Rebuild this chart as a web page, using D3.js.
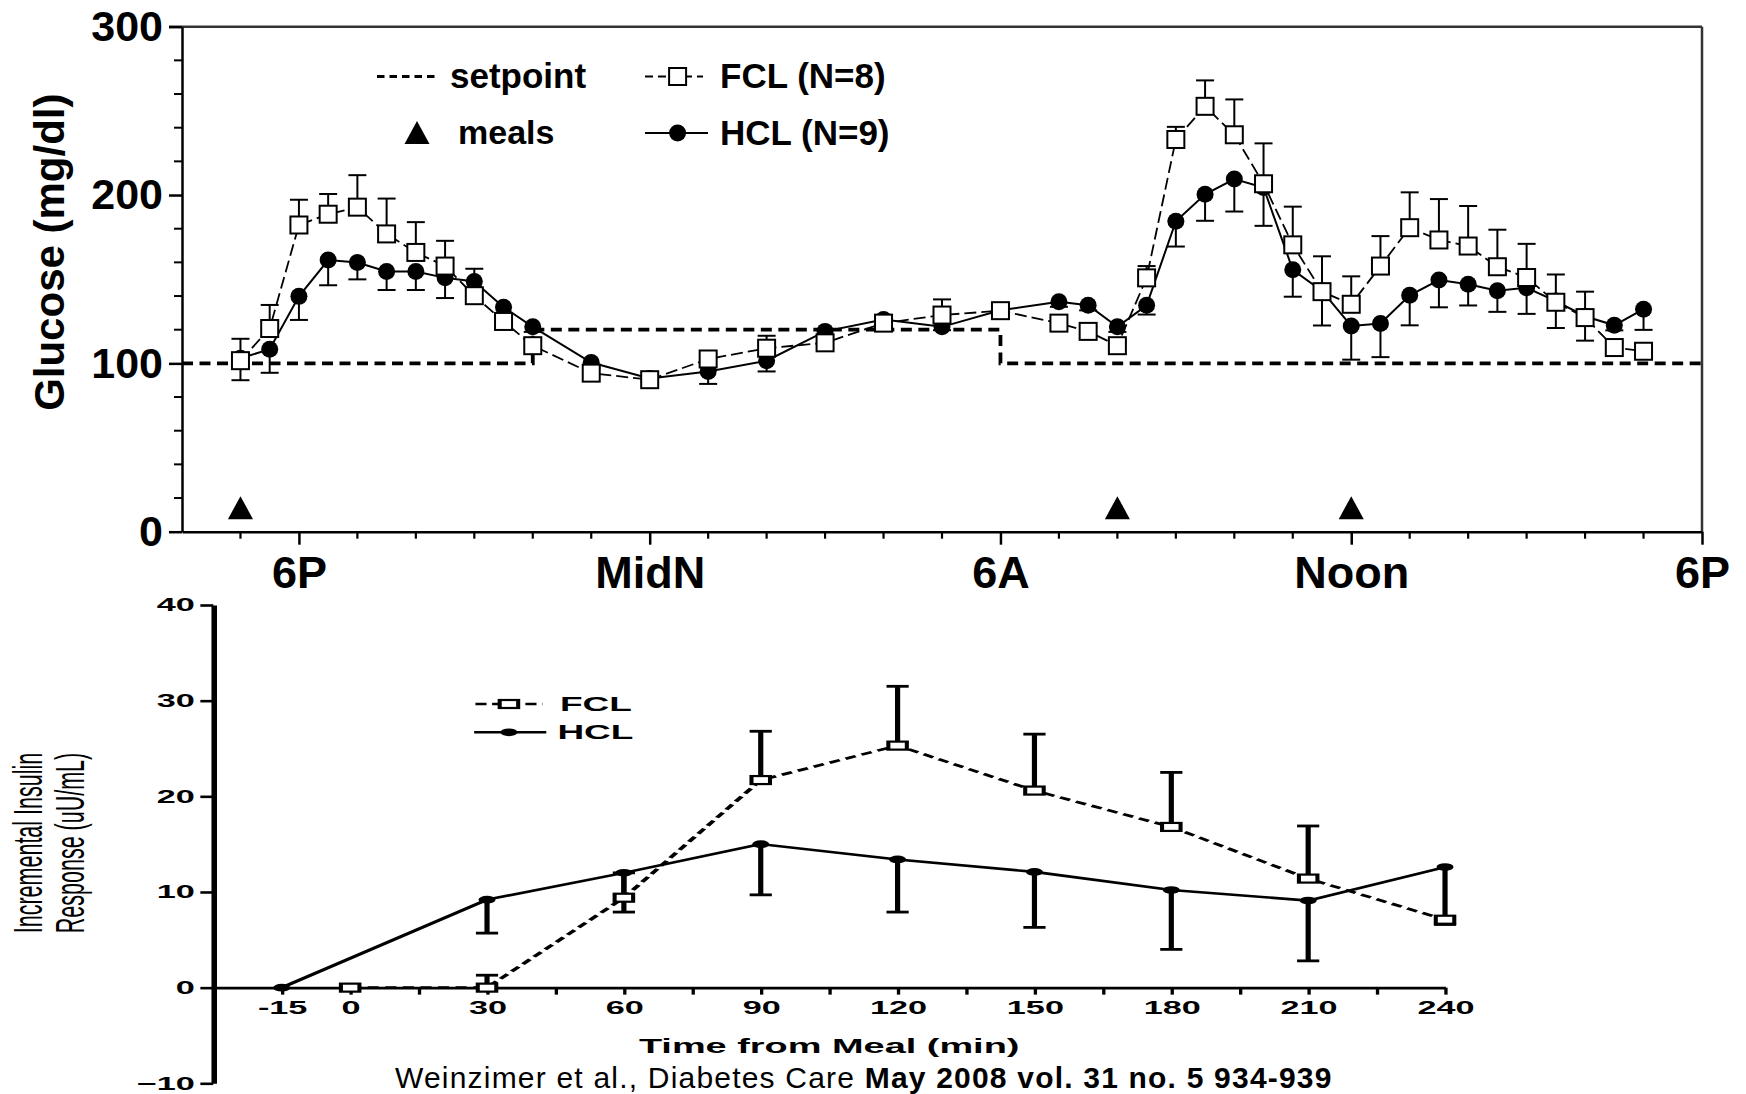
<!DOCTYPE html>
<html><head><meta charset="utf-8">
<script src="https://cdn.jsdelivr.net/npm/d3@7"></script>
<style>
body{margin:0;background:#fff}
svg{display:block;background:#fff}
text{font-family:"Liberation Sans",Arial,Helvetica,sans-serif;fill:#000}
</style>
</head><body>
<svg id="chart" width="1746" height="1094"></svg>
<script>
// ---------------- DATA: top panel (glucose) ----------------
const glucoseTimes = [17,17.5,18,18.5,19,19.5,20,20.5,21,21.5,22,
  23,24,25,26,27,28,29,30,31,
  31.5,32,32.5,33,33.5,34,34.5,35,35.5,36,36.5,37,37.5,38,38.5,39,39.5,40,40.5,41];
const fclGlucose = [101.6,120.7,182.2,188.6,192.8,176.9,165.9,157.8,140.2,124.9,110.5,
  94.2,90.3,102.6,109,112.2,123.9,128.7,131.3,123.9,
  119,110.5,150.8,233,252.7,235.8,206.7,170.4,142.6,135.1,157.8,180.6,173.3,169.7,157.4,151,136.3,127.2,109.4,107.2];
const fclGlucoseErr = [13,14,15,12,19,21,18,15,16,5,3,
  3,2,3,7.4,3,3,9.3,3,3,
  3,3,7,7.5,15.4,21,24,22.7,21,16.6,17.8,21,24.3,23.8,22,20,16.5,15.4,3,3];
const hclGlucose = [103,108.4,139.8,161.4,159.9,154.6,154.6,150.8,148.7,133.4,121.7,
  100.5,91,95.2,101.6,119,126,121.7,131.5,136.6,
  134.5,121.7,134.5,184.4,200.4,209.5,204.5,155.6,143,122.2,123.7,140.4,149.5,147,143.1,144.9,137,128,122.6,132.2];
const hclGlucoseErr = [13,14,14,15,10,11,11,12,5,5,3,
  3,2,7.4,6.4,2,3,2,3,3,
  3,3,5.5,15,15.7,19.3,22.8,16,20.5,20,20,17.8,16.2,12.6,12.5,15.5,16,14.5,3,12.3];
const setpointTimes = [16,22,30,42];
const setpointLevels = [100,120,100,100];
const mealTimes = [17,32,36];
const mealLevel = 14;
const glucoseTicks = [0,100,200,300];
const hourTicks = [18,24,30,36,42];
const hourLabels = ["6P","MidN","6A","Noon","6P"];

// ---------------- DATA: bottom panel (insulin) ----------------
const fclInsulinTimes = [0,30,60,90,120,150,180,210,240];
const fclInsulin = [0,0,9.4,21.7,25.3,20.6,16.8,11.4,7.1];
const fclInsulinErr = [0,1.3,2.6,5.1,6.2,5.9,5.7,5.5,0];
const hclInsulinTimes = [-15,30,60,90,120,150,180,210,240];
const hclInsulin = [0,9.2,12.0,15.0,13.4,12.1,10.2,9.1,12.6];
const hclInsulinErr = [0,3.5,4.1,5.3,5.5,5.8,6.2,6.3,6.0];
const insulinYTicks = [-10,0,10,20,30,40];
const minuteTicks = [-15,0,15,30,45,60,75,90,105,120,135,150,165,180,195,210,225,240];
const minuteLabels = [-15,0,30,60,90,120,150,180,210,240];

const svg = d3.select("#chart");

// =============== TOP PANEL ===============
const xT = d3.scaleLinear().domain([16,42]).range([182,1702]);
const yT = d3.scaleLinear().domain([0,300]).range([531.7,26.7]);
const gT = svg.append("g");

// frame (top and right)
gT.append("line").attr("x1",xT(16)-13).attr("x2",xT(42)).attr("y1",yT(300)).attr("y2",yT(300))
  .attr("stroke","#333").attr("stroke-width",2.5);
gT.append("line").attr("x1",xT(42)).attr("x2",xT(42)).attr("y1",yT(300)).attr("y2",yT(0))
  .attr("stroke","#333").attr("stroke-width",2.5);

// y axis
const yAx = gT.append("g").attr("transform",`translate(${xT(16)},0)`)
  .call(d3.axisLeft(yT).tickValues(glucoseTicks).tickSize(13).tickSizeOuter(0).tickPadding(6).tickFormat(d3.format("d")));
yAx.selectAll("path,line").attr("stroke","#000").attr("stroke-width",2.5);
yAx.selectAll("text").attr("font-size",43).attr("font-weight","bold").attr("fill","#000");
// minor y ticks
gT.append("g").selectAll("line").data(d3.range(20,300,20).filter(v=>v%100!==0)).join("line")
  .attr("x1",xT(16)-8).attr("x2",xT(16)).attr("y1",d=>yT(d)).attr("y2",d=>yT(d))
  .attr("stroke","#000").attr("stroke-width",2);

// x axis
const xAx = gT.append("g").attr("transform",`translate(0,${yT(0)})`)
  .call(d3.axisBottom(xT).tickValues(hourTicks).tickSize(13).tickSizeOuter(0).tickPadding(11)
    .tickFormat((d,i)=>hourLabels[i]));
xAx.selectAll("path,line").attr("stroke","#000").attr("stroke-width",2.5);
xAx.selectAll("text").attr("font-size",45).attr("font-weight","bold").attr("fill","#000");
gT.append("g").selectAll("line").data(d3.range(17,42).filter(h=>!hourTicks.includes(h))).join("line")
  .attr("x1",d=>xT(d)).attr("x2",d=>xT(d)).attr("y1",yT(0)).attr("y2",yT(0)+7)
  .attr("stroke","#000").attr("stroke-width",2.2);

// y title
gT.append("text").attr("transform",`translate(64,${(yT(0)+yT(300))/2-27}) rotate(-90)`)
  .attr("text-anchor","middle").attr("font-size",42).attr("font-weight","bold").text("Glucose (mg/dl)");

// setpoint
const spData = setpointTimes.map((t,i)=>[t,setpointLevels[i]]);
gT.append("path").datum(spData)
  .attr("d",d3.line().x(d=>xT(d[0])).y(d=>yT(d[1])).curve(d3.curveStepAfter))
  .attr("fill","none").attr("stroke","#000").attr("stroke-width",3.8).attr("stroke-dasharray","11,6.5");

// series
const fclG = glucoseTimes.map((t,i)=>({t,v:fclGlucose[i],e:fclGlucoseErr[i]}));
const hclG = glucoseTimes.map((t,i)=>({t,v:hclGlucose[i],e:hclGlucoseErr[i]}));
const lineT = d3.line().x(d=>xT(d.t)).y(d=>yT(d.v));
gT.append("path").datum(hclG).attr("d",lineT).attr("fill","none").attr("stroke","#000").attr("stroke-width",2);
gT.append("path").datum(fclG).attr("d",lineT).attr("fill","none").attr("stroke","#000").attr("stroke-width",1.8).attr("stroke-dasharray","12,5");

function errBars(g, data, dir, xs, ys, cap, sw){
  const eb = g.append("g");
  eb.selectAll("line.v").data(data.filter(d=>d.e>0)).join("line").attr("class","v")
    .attr("x1",d=>xs(d.t)).attr("x2",d=>xs(d.t)).attr("y1",d=>ys(d.v)).attr("y2",d=>ys(d.v+dir*d.e))
    .attr("stroke","#000").attr("stroke-width",sw);
  eb.selectAll("line.c").data(data.filter(d=>d.e>0)).join("line").attr("class","c")
    .attr("x1",d=>xs(d.t)-cap).attr("x2",d=>xs(d.t)+cap).attr("y1",d=>ys(d.v+dir*d.e)).attr("y2",d=>ys(d.v+dir*d.e))
    .attr("stroke","#000").attr("stroke-width",sw);
}
errBars(gT, hclG, -1, xT, yT, 9, 2);
errBars(gT, fclG, 1, xT, yT, 9, 2);

gT.append("g").selectAll("circle").data(hclG).join("circle")
  .attr("cx",d=>xT(d.t)).attr("cy",d=>yT(d.v)).attr("r",8.5).attr("fill","#000");
gT.append("g").selectAll("rect").data(fclG).join("rect")
  .attr("x",d=>xT(d.t)-8.5).attr("y",d=>yT(d.v)-8.5).attr("width",17).attr("height",17)
  .attr("fill","#fff").attr("stroke","#000").attr("stroke-width",2);

// meals
const tri = (cx,cy)=>`M${cx-12.5},${cy+11}L${cx+12.5},${cy+11}L${cx},${cy-12}Z`;
gT.append("g").selectAll("path").data(mealTimes).join("path")
  .attr("d",d=>tri(xT(d),yT(mealLevel))).attr("fill","#000");

// legend (top)
const lg = gT.append("g");
lg.append("line").attr("x1",377).attr("x2",435).attr("y1",76.5).attr("y2",76.5)
  .attr("stroke","#000").attr("stroke-width",3).attr("stroke-dasharray","7.5,5");
lg.append("text").attr("x",450).attr("y",88).attr("font-size",35).attr("font-weight","bold").text("setpoint");
lg.append("path").attr("d",tri(417,133)).attr("fill","#000");
lg.append("text").attr("x",458).attr("y",144).attr("font-size",34).attr("font-weight","bold").text("meals");
lg.append("line").attr("x1",645).attr("x2",703).attr("y1",76.5).attr("y2",76.5)
  .attr("stroke","#000").attr("stroke-width",1.8).attr("stroke-dasharray","8,5");
lg.append("rect").attr("x",677.6-8.5).attr("y",76.5-8.5).attr("width",17).attr("height",17)
  .attr("fill","#fff").attr("stroke","#000").attr("stroke-width",2);
lg.append("text").attr("x",720).attr("y",88).attr("font-size",35).attr("font-weight","bold").text("FCL (N=8)");
lg.append("line").attr("x1",645).attr("x2",708).attr("y1",133).attr("y2",133)
  .attr("stroke","#000").attr("stroke-width",2);
lg.append("circle").attr("cx",677.6).attr("cy",133).attr("r",8.5).attr("fill","#000");
lg.append("text").attr("x",720).attr("y",145).attr("font-size",35).attr("font-weight","bold").text("HCL (N=9)");

// =============== BOTTOM PANEL (horizontally stretched image) ===============
const gB = svg.append("g").attr("transform","translate(213.3,0) scale(1.85,1)");
const xB = d3.scaleLinear().domain([-30,240]).range([0,665.8]);
const yB = d3.scaleLinear().domain([-10,40]).range([1083.3,605]);

const yAxB = gB.append("g").call(d3.axisLeft(yB).tickValues(insulinYTicks).tickSize(7).tickSizeOuter(0).tickPadding(3));
yAxB.selectAll("path").attr("stroke","#000").attr("stroke-width",3);
yAxB.selectAll("line").attr("stroke","#000").attr("stroke-width",2.6);
yAxB.selectAll("text").attr("font-size",18.5).attr("font-weight","bold").attr("fill","#000");

const xAxB = gB.append("g").attr("transform",`translate(0,${yB(0)})`)
  .call(d3.axisBottom(xB).tickValues(minuteTicks).tickSize(7).tickSizeOuter(0).tickPadding(6)
    .tickFormat(d=>minuteLabels.includes(d)?String(d):""));
xAxB.selectAll("path").attr("stroke","#000").attr("stroke-width",2.6);
xAxB.selectAll("line").attr("stroke","#000").attr("stroke-width",1.8);
xAxB.selectAll("text").attr("font-size",18.5).attr("font-weight","bold").attr("fill","#000");

gB.append("text").attr("x",(xB(-30)+xB(240))/2).attr("y",1053).attr("text-anchor","middle")
  .attr("font-size",20.5).attr("font-weight","bold").text("Time from Meal (min)");
gB.append("text").attr("transform","translate(-92.5,843) rotate(-90)").attr("text-anchor","middle")
  .attr("font-size",21.5).text("Incremental Insulin");
gB.append("text").attr("transform","translate(-70,843) rotate(-90)").attr("text-anchor","middle")
  .attr("font-size",21.5).text("Response (uU/mL)");

const fclI = fclInsulinTimes.map((t,i)=>({t,v:fclInsulin[i],e:fclInsulinErr[i]}));
const hclI = hclInsulinTimes.map((t,i)=>({t,v:hclInsulin[i],e:hclInsulinErr[i]}));
const lineB = d3.line().x(d=>xB(d.t)).y(d=>yB(d.v));
gB.append("path").datum(hclI).attr("d",lineB).attr("fill","none").attr("stroke","#000").attr("stroke-width",2.6);
gB.append("path").datum(fclI).attr("d",lineB).attr("fill","none").attr("stroke","#000").attr("stroke-width",2.6).attr("stroke-dasharray","6,3.5");
errBars(gB, hclI, -1, xB, yB, 6, 2.8);
errBars(gB, fclI, 1, xB, yB, 6, 2.8);
gB.append("g").selectAll("ellipse").data(hclI).join("ellipse")
  .attr("cx",d=>xB(d.t)).attr("cy",d=>yB(d.v)).attr("rx",4.6).attr("ry",3.9).attr("fill","#000");
gB.append("g").selectAll("rect").data(fclI).join("rect")
  .attr("x",d=>xB(d.t)-5).attr("y",d=>yB(d.v)-4).attr("width",10).attr("height",8)
  .attr("fill","#fff").attr("stroke","#000").attr("stroke-width",2.2);

// bottom legend
const lgB = gB.append("g");
lgB.append("line").attr("x1",141.7).attr("x2",177.9).attr("y1",704).attr("y2",704)
  .attr("stroke","#000").attr("stroke-width",2.4).attr("stroke-dasharray","6,3");
lgB.append("rect").attr("x",159.8-5).attr("y",704-4).attr("width",10).attr("height",8)
  .attr("fill","#fff").attr("stroke","#000").attr("stroke-width",2.2);
lgB.append("text").attr("x",187.4).attr("y",711).attr("font-size",20).attr("font-weight","bold").text("FCL");
lgB.append("line").attr("x1",141).attr("x2",180).attr("y1",732.3).attr("y2",732.3)
  .attr("stroke","#000").attr("stroke-width",2.4);
lgB.append("ellipse").attr("cx",159.8).attr("cy",732.3).attr("rx",4.6).attr("ry",3.9).attr("fill","#000");
lgB.append("text").attr("x",186).attr("y",739.5).attr("font-size",20).attr("font-weight","bold").text("HCL");

// citation (kept fully inside the canvas)
const cit = svg.append("text").attr("x",395).attr("y",1087.5).attr("font-size",30).attr("letter-spacing",1.2).style("white-space","pre");
cit.append("tspan").text("Weinzimer et al., Diabetes Care ");
cit.append("tspan").attr("font-weight","bold").text("May 2008 vol. 31 no. 5 934-939");
</script>
</body></html>
